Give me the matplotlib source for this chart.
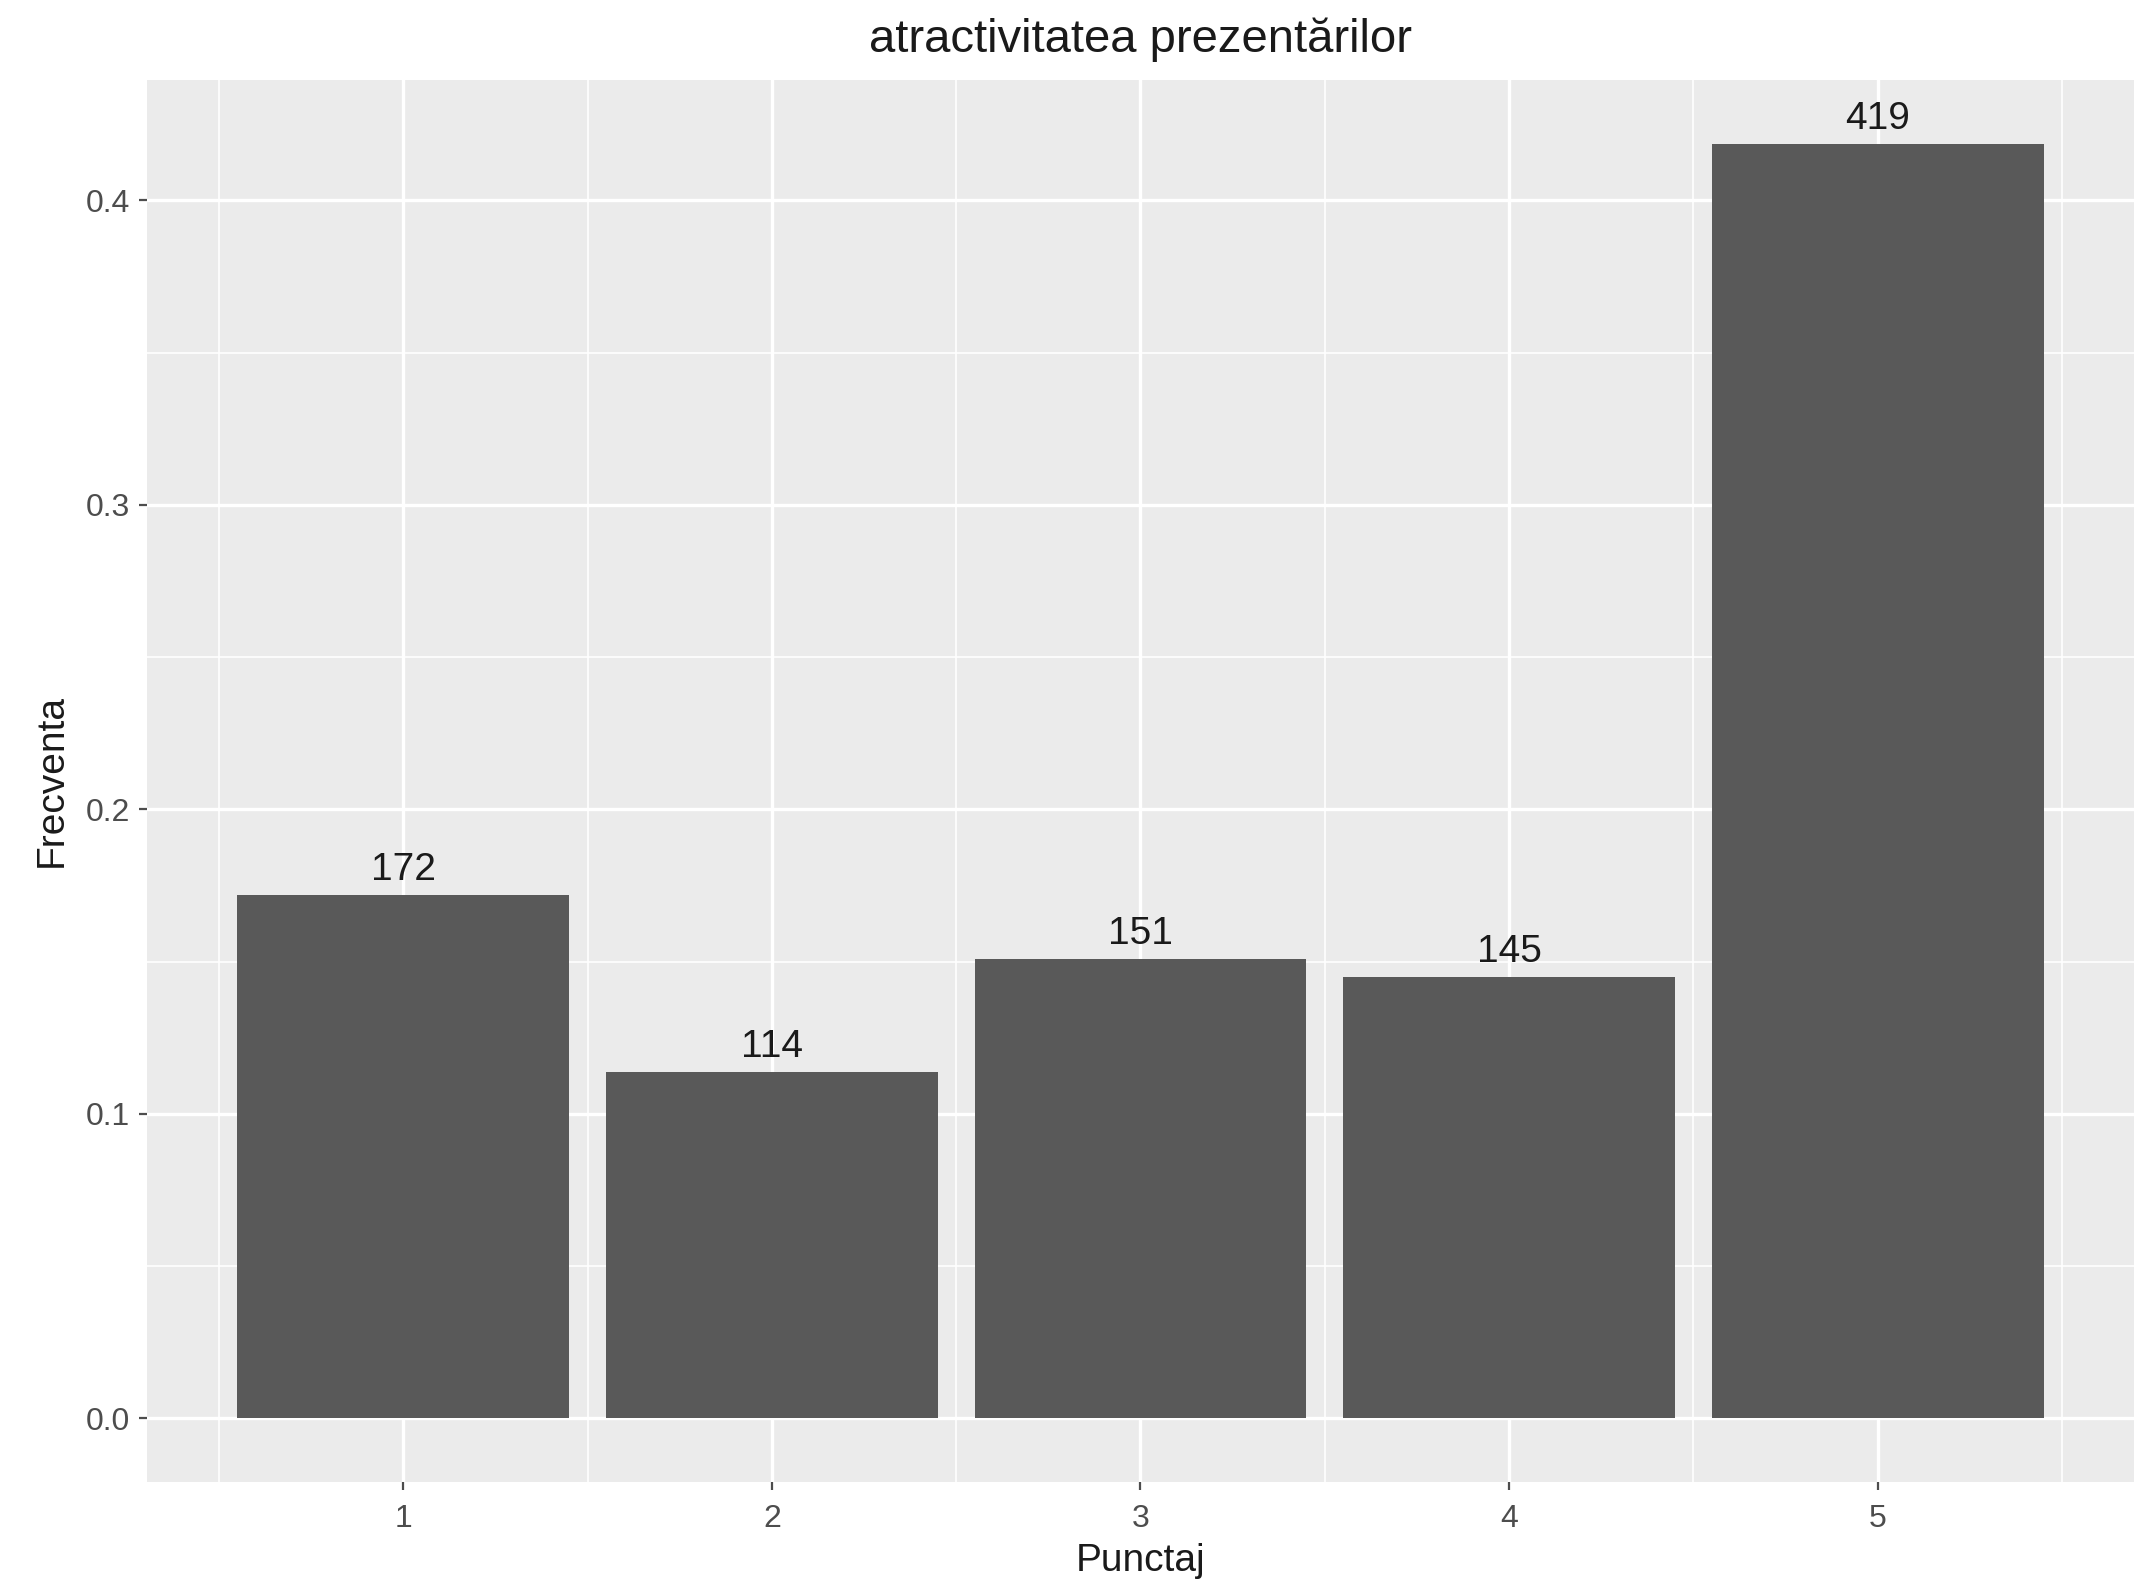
import numpy as np
import matplotlib
matplotlib.use("Agg")
import matplotlib.pyplot as plt

# --- data ---
punctaj = [1, 2, 3, 4, 5]
counts = [172, 114, 151, 145, 419]
total = sum(counts)
freq = [c / total for c in counts]

y_ticks = [0.0, 0.1, 0.2, 0.3, 0.4]
y_minor = [0.05, 0.15, 0.25, 0.35]
x_minor = [0.5, 1.5, 2.5, 3.5, 4.5, 5.5]

plt.rcParams['font.family'] = ['Liberation Sans', 'DejaVu Sans']

fig = plt.figure(figsize=(10.76, 7.92), dpi=200)
ax = fig.add_axes([0.0683, 0.0644, 0.9233, 0.8851])

# ggplot grey panel
ax.set_facecolor('#EBEBEB')
for s in ax.spines.values():
    s.set_visible(False)

# grid lines (minor thinner)
for v in y_minor:
    ax.axhline(v, color='white', lw=0.6, zorder=0)
for v in y_ticks:
    ax.axhline(v, color='white', lw=1.2, zorder=0)
for v in x_minor:
    ax.axvline(v, color='white', lw=0.6, zorder=0)
for v in punctaj:
    ax.axvline(v, color='white', lw=1.2, zorder=0)

ax.bar(punctaj, freq, width=0.9, color='#595959', zorder=2)

# count labels above bars
for x, f, c in zip(punctaj, freq, counts):
    ax.annotate(str(c), (x, f), xytext=(0, 2.5), textcoords='offset points',
                ha='center', va='bottom', fontsize=14, color='#1A1A1A')

ax.set_xlim(0.305, 5.695)
ax.set_ylim(-0.0209, 0.4395)
ax.set_xticks(punctaj)
ax.set_yticks(y_ticks)
ax.set_yticklabels([f"{v:.1f}" for v in y_ticks])
ax.tick_params(axis='both', colors='#4D4D4D', labelsize=11.5, length=3, width=0.8)
ax.tick_params(axis='x', pad=5)
ax.tick_params(axis='y', pad=3)

ax.set_xlabel("Punctaj", fontsize=14, labelpad=3, color='#1A1A1A')
ax.set_ylabel("Frecventa", fontsize=14, labelpad=6, color='#1A1A1A')
ax.set_title("atractivitatea prezentărilor", fontsize=17, pad=10, color='#1A1A1A')

fig.savefig("out.png", dpi=200, facecolor='white')
